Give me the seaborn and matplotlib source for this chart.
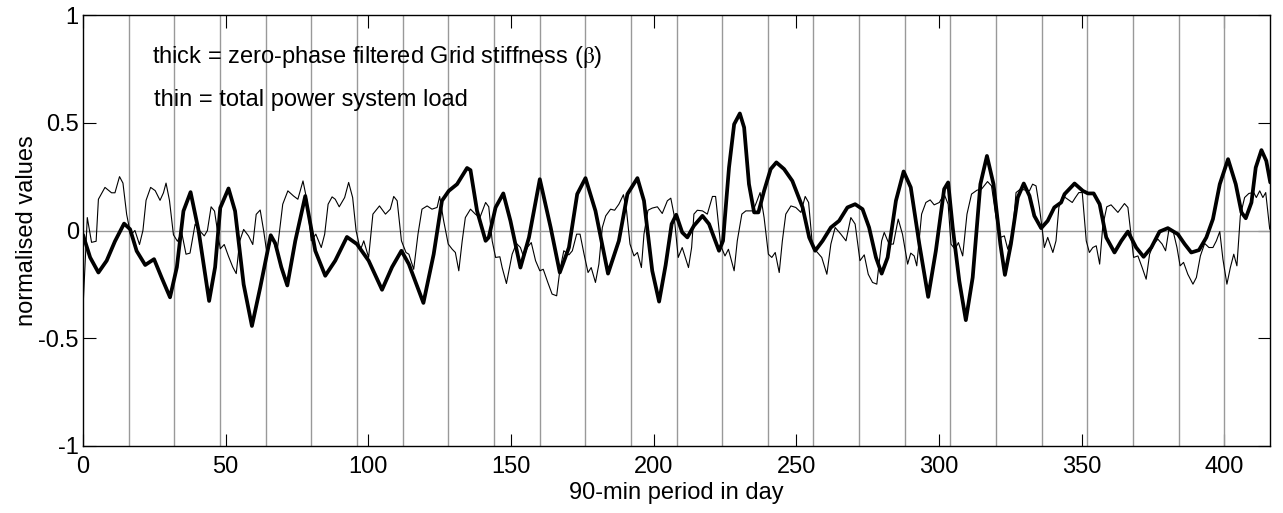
import matplotlib
matplotlib.use("Agg")
import matplotlib.pyplot as plt
import seaborn as sns

# ---- data ----
thin_x = [0, 1.5, 3, 4.6, 5.4, 7.7, 10, 11.2, 12.8, 14, 15.3, 16.7, 18.2, 19.8, 21, 22.1, 23.7, 25.3, 27, 28.2,
          29.1, 30.3, 31.7, 33.1, 34.6, 36.1, 37.5, 39.3, 40.8, 42.5, 43.6, 44.9, 46.1, 47.1, 48.1, 49.5, 51, 52.5,
          53.7, 54.9, 56.3, 58, 59.5, 60.7, 62.1, 63.3, 64.5, 66.2, 68,
          70, 71.8, 73.8, 75.3, 77.1, 78.5, 80, 81.6, 83.5, 84.7, 85.9, 87.3, 88.4, 89.8, 91.7, 93.1, 94.5, 95.7,
          97.2, 98.4, 100.1, 101.6, 103.9, 106, 107.7, 108.9, 110.1, 111.6, 113.2, 114.2, 115.9, 117.4, 118.8,
          120.6, 122.3, 124.1, 125, 126.4, 128, 129.4, 130.5, 131.7, 132.9, 134, 135.8,
          137.5, 139.1, 141.1, 142.2, 143.4, 144.6, 146.1, 146.9, 148.4, 150.4, 151.9, 153.3, 154.5, 155.7, 157.1,
          158.6, 160.1, 161.3, 162.9, 164.4, 166, 167.1, 168.5, 170.3, 171.5, 173, 174.2, 175.6, 177, 178.1, 179.6,
          180.8, 182, 183.2, 184.9, 186.3, 187.8, 189.4, 190.5, 191.7, 193.1, 194.3, 195.7, 196.6, 198, 199.5,
          201.3, 203, 204.8, 206,
          207.1, 208.6, 210, 212.2, 213.3, 214.1, 215.3, 217.1, 218.8, 220.6, 221.7, 223.5, 225, 226.2, 228.2,
          229.3, 230.9, 232.3, 234.8, 236, 237.3, 238.7, 240.2, 241.4, 242.6, 244, 245.1, 246.3, 248.1, 249.8,
          251.6, 253.1, 254.3, 255.7, 257.4, 258.9, 260.7, 262.1, 263.6, 265.6, 267.4, 269.1, 270.6, 272.3,
          273.8, 275.2, 276.7, 278.2, 279.9, 280.8, 282.5, 284, 285.7, 287.2, 289, 290.1, 291.3, 292.2, 293.9,
          295.4, 296.9, 298.3, 300.1, 301.8, 303.2, 304.2, 305.6, 306.8, 308.3, 309.8, 311.4, 313.3, 314.9, 317,
          318.4, 320, 321.5, 322.9, 324.1, 325.8, 327, 328.5, 330.5, 331.7, 332.8, 334, 335.2, 336.3, 336.9,
          338.1, 339.9, 341, 342,
          343.4, 345.1, 346.7, 347.8, 349, 350.2, 351.6, 352.7, 353.9, 355.1, 356.3, 357.4, 358.8, 360.3, 362.7,
          365, 366.2, 367, 368.2, 369.7, 371.2, 372.6, 373.8, 375.2, 376.7, 378.2, 379.4, 380.6, 382, 383.4,
          384.5, 385.7, 387.2, 389, 390.2, 391.6, 393.1, 394.6, 396, 397.2, 398.4, 399.5, 400.9, 402.1, 403.3,
          404.4, 405.6, 407.1, 408.6, 410.3, 411.2, 412.4, 413.5, 414.5, 415.9]
thin_y = [-0.36, 0.06, -0.055, -0.05, 0.145, 0.2, 0.175, 0.175, 0.25, 0.22, 0.075, -0.02, 0, -0.065, 0, 0.14, 0.2,
          0.185, 0.14, 0.175, 0.22, 0.14, -0.02, -0.05, -0.01, -0.11, -0.105, 0.03, 0, -0.025, 0, 0.11, 0.09, 0,
          -0.085, -0.065, -0.12, -0.17, -0.2, -0.05, 0.005, -0.025, -0.065, 0.075, 0.095, 0, -0.11, -0.03, -0.1,
          0.122, 0.184, 0.16, 0.145, 0.23, 0.138, -0.048, -0.017, -0.079, -0.017, 0.122, 0.156, 0.145, 0.11,
          0.153, 0.223, 0.153, 0, -0.091, -0.048, -0.125, 0.076, 0.114, 0.076, 0.099, 0.158, 0.138, -0.048,
          -0.102, -0.11, -0.18, -0.017, 0.099, 0.114, 0.099, 0.107, 0.158, 0.045, -0.063, -0.087, -0.102, -0.187,
          -0.048, 0.06, 0.099,
          0.076, 0.06, 0.13, 0.11, -0.048, -0.125, -0.122, -0.172, -0.246, -0.11, -0.06, -0.079, -0.125, -0.079,
          -0.056, -0.14, -0.187, -0.18, -0.241, -0.295, -0.303, -0.187, -0.094, -0.113, -0.094, -0.017, -0.017,
          -0.11, -0.195, -0.172, -0.241, -0.156, 0.014, 0.068, 0.099, 0.094, 0.122, 0.166, 0.091, -0.063, -0.118,
          -0.102, -0.172, -0.017, 0.094, 0.104, 0.11, 0.079, 0.138, 0.15,
          0.076, -0.125, -0.079, -0.172, -0.079, 0.076, 0.094, 0.091, 0.076, 0.158, 0.158, -0.071, -0.118, -0.087,
          -0.187, -0.048, 0.076, 0.091, 0.091, 0.13, 0.176, 0.06, -0.11, -0.125, -0.102, -0.195, -0.048, 0.076,
          0.114, 0.107, 0.084, 0.158, 0.13, -0.079, -0.102, -0.125, -0.203, -0.063, 0.014, -0.017, -0.048, 0.06,
          0.03, -0.14,
          -0.113, -0.203, -0.241, -0.249, -0.048, -0.009, -0.063, -0.063, 0.053, -0.017, -0.156, -0.105, -0.118,
          -0.164, 0.076, 0.13, 0.142, 0.119, 0.13, 0.169, 0.122, -0.063, -0.087, -0.056, -0.118, 0.076, 0.169,
          0.187, 0.192, 0.227, 0.207, 0.06, -0.032, -0.025, -0.087, -0.009, 0.176, 0.192, 0.187, 0.184, 0.215,
          0.207, 0.107, -0.009, -0.079, -0.032, -0.102, -0.048, 0.107,
          0.161, 0.145, 0.13, 0.153, 0.176, 0.176, -0.048, -0.102, -0.079, -0.071, -0.156, 0.022, 0.11, 0.119,
          0.084, 0.125, 0.107, 0.014, -0.125, -0.118, -0.172, -0.226, -0.11, -0.063, -0.04, -0.063, -0.094, 0.006,
          0, -0.079, -0.164, -0.148, -0.203, -0.249, -0.218, -0.118, -0.06, -0.079, -0.079, -0.048, -0.005, -0.133,
          -0.249, -0.172, -0.11, -0.164, 0.068, 0.153, 0.172, 0.176, 0.153, 0.184, 0.153, 0.176, 0.006]

thick_x = [0, 2.5, 5.4, 8.3, 11.2, 14.4, 16.5, 18.8, 21.8, 24.9, 27.6, 30.5, 32.9, 35.2, 37.7, 40.5, 44.2, 46.3,
           48.1, 51, 53.3, 56.3, 59.2, 62.1, 65.8, 67.4, 69.5, 71.6, 74.4, 77.9, 81.4, 84.9, 88.4, 92.5, 96,
           100.1, 104.8, 108.3, 111.6, 114.2, 119.3, 122.9, 125.8, 128.2, 131.1, 134.6, 135.8, 138.1, 141.1,
           142.2, 144.6, 147.3, 149.8, 153.3, 156.3, 160.1, 163.9, 167.1, 170.3, 173.2, 176.1, 179.6, 184, 187.8,
           190.8, 194.3, 196.6, 199.5, 201.9, 204.2, 206.3, 207.9, 210, 211.8, 214.1, 217.1, 219.4, 222.9, 224.3,
           226.4, 228.2, 230.2, 231.7, 233.4, 235.2, 236.7, 238.7, 241, 243, 245.7, 248.6, 252.2, 254.5, 256.6,
           259.2, 262.1, 265, 267.9, 270.6, 273.2, 275.5, 277.9, 279.9, 282, 284.9, 287.6, 290.1, 293.1, 296.2,
           298.9, 301.8, 303.2, 304.8, 307.1, 309.4, 311.8, 314.5, 316.8, 319.1, 321.5, 323.1, 325.2, 327.6,
           329.7, 331.7, 333.4, 335.8, 338.1, 340.4, 342.8, 344, 347.5, 350.4, 352.2, 354.2, 356.3, 358.6, 361.5,
           363.9, 366.2, 369.1, 371.7, 374.4, 377.3, 380.2, 383.7, 386.1, 388.4, 391.1, 393.7, 396, 398.4, 401.3,
           404, 406, 407.5, 409.5, 411, 413, 414.7, 416.1]
thick_y = [-0.02, -0.125, -0.195, -0.14, -0.05, 0.032, 0.006, -0.095, -0.16, -0.133, -0.22, -0.31, -0.17, 0.09,
           0.178, 0, -0.327, -0.17, 0.105, 0.195, 0.09, -0.25, -0.443, -0.265, -0.022, -0.06, -0.17, -0.255,
           -0.048, 0.16, -0.094, -0.21, -0.14, -0.03, -0.063, -0.14, -0.275, -0.17, -0.094, -0.156, -0.336, -0.11,
           0.138, 0.184, 0.215, 0.29, 0.28, 0.091, -0.048, -0.032, 0.107, 0.172, 0.045, -0.172, -0.032, 0.238,
           0.014, -0.195, -0.079, 0.169, 0.243, 0.091, -0.2, -0.048, 0.169, 0.243, 0.138, -0.187, -0.33, -0.16,
           0.03, 0.073, -0.009, -0.032, 0.022, 0.068, 0.03, -0.094, -0.048, 0.292, 0.493, 0.543, 0.478, 0.215,
           0.084, 0.084, 0.184, 0.285, 0.316, 0.285, 0.23, 0.107, -0.032, -0.094, -0.048, 0.014, 0.045, 0.107,
           0.122, 0.099, 0.014, -0.125, -0.2, -0.125, 0.138, 0.274, 0.2, -0.063, -0.308, -0.094, 0.192, 0.223,
           0.014, -0.234, -0.416, -0.218, 0.215, 0.346, 0.215, -0.063, -0.206, -0.063, 0.153, 0.218, 0.161, 0.068,
           0.011, 0.045, 0.107, 0.13, 0.169, 0.218, 0.184, 0.172, 0.172, 0.122, -0.032, -0.102, -0.048, -0.005,
           -0.079, -0.122, -0.079, -0.005, 0.011, -0.017, -0.063, -0.102, -0.091, -0.032, 0.053, 0.215, 0.331,
           0.215, 0.084, 0.057, 0.13, 0.292, 0.373, 0.323, 0.223]

day_boundaries = list(range(16, 416, 16))
x_ticks = [0, 50, 100, 150, 200, 250, 300, 350, 400]
x_tick_labels = ["0", "50", "100", "150", "200", "250", "300", "350", "400"]
y_ticks = [-1, -0.5, 0, 0.5, 1]
y_tick_labels = ["-1", "-0.5", "0", "0.5", "1"]
note_thick = r"thick = zero-phase filtered Grid stiffness ($\mathrm{\beta}$)"
note_thin = "thin = total power system load"
x_label = "90-min period in day"
y_label = "normalised values"

# ---- styling ----
sns.set_style("ticks")
plt.rcParams["font.family"] = ["Liberation Sans", "DejaVu Sans"]
plt.rcParams["mathtext.fontset"] = "stix"
plt.rcParams["text.color"] = "black"
plt.rcParams["axes.labelcolor"] = "black"
plt.rcParams["xtick.color"] = "black"
plt.rcParams["ytick.color"] = "black"

FS = 17
W, H = 1283, 513
fig = plt.figure(figsize=(W / 100, H / 100), dpi=100)
ax = fig.add_axes([83 / W, 1 - 446 / H, (1270 - 83) / W, (446 - 15) / H])

for xb in day_boundaries:
    ax.axvline(xb, color="#999999", lw=1.0, zorder=1)
ax.axhline(0, color="#999999", lw=1.0, zorder=1)

sns.lineplot(x=thin_x, y=thin_y, ax=ax, color="black", lw=0.8, sort=False, estimator=None, zorder=2)
sns.lineplot(x=thick_x, y=thick_y, ax=ax, color="black", lw=2.7, sort=False, estimator=None, zorder=3)

ax.set_xlim(0, 416)
ax.set_ylim(-1, 1)
ax.set_xticks(x_ticks)
ax.set_xticklabels(x_tick_labels)
ax.set_yticks(y_ticks)
ax.set_yticklabels(y_tick_labels)
ax.tick_params(axis="both", direction="in", length=9, width=0.8, top=True, right=True,
               labelsize=FS, colors="black")
ax.tick_params(axis="x", pad=7)
ax.tick_params(axis="y", pad=3)
for s in ax.spines.values():
    s.set_color("black")
    s.set_linewidth(1.0)

ax.set_xlabel(x_label, fontsize=FS, labelpad=3)
ax.set_ylabel(y_label, fontsize=FS, labelpad=0)

ax.text(24.2, 0.805, note_thick, fontsize=FS, va="center", ha="left")
ax.text(25.0, 0.605, note_thin, fontsize=FS, va="center", ha="left")

fig.savefig("out.png", dpi=100)
